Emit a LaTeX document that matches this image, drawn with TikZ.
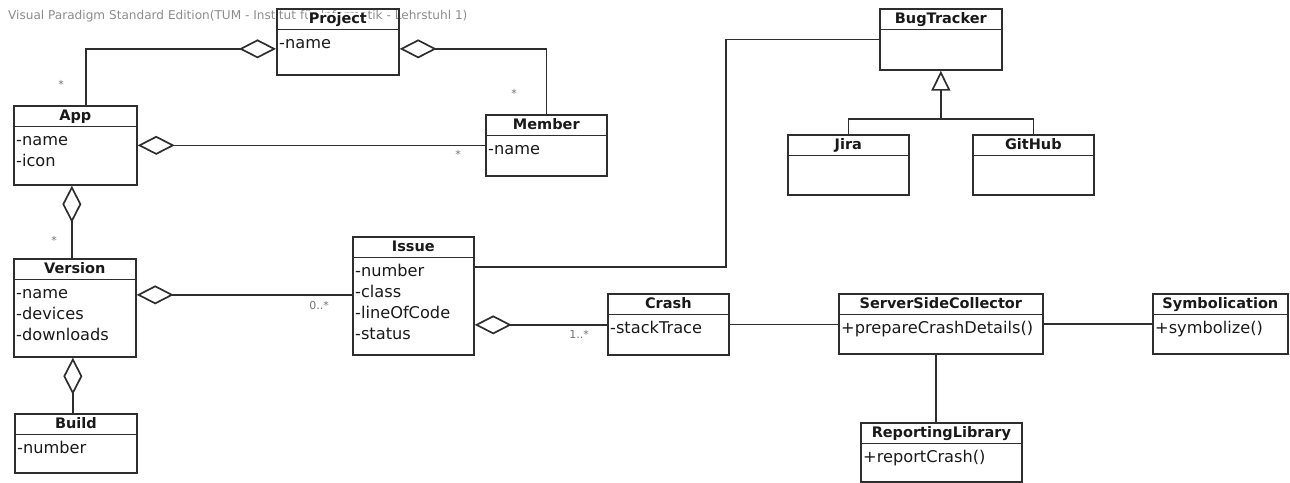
\documentclass[tikz,border=0pt]{standalone}
\usepackage{fontspec}
\setmainfont{DejaVu Sans}
\usetikzlibrary{arrows.meta}

% class box: name, x, y, width, height, title
\newcommand\umlclass[6]{%
  \node[clsbox, minimum width=#4pt, minimum height=#5pt] (#1) at (#2,#3) {};
  \draw[umlline] ([yshift=-21.5pt]#1.north west) -- ([yshift=-21.5pt]#1.north east);
  \node[clstitle] (#1-title) at ([yshift=-10.5pt]#1.north) {#6};
}
% one attribute / operation line: class, line number, text
\newcommand\umlattr[3]{%
  \node[clsattr] (#1-attr#2) at ([xshift=3pt, yshift={-40pt-(#2-1)*21pt}]#1.north west) {#3};
}

\tikzset{
  aggtip/.tip={Diamond[open, length=37pt, width=19pt]},
  gentip/.tip={Triangle[open, length=20pt, width=19pt]},
}

\begin{document}
\begin{tikzpicture}[x=1pt, y=-1pt,
  umlline/.style={draw=black!82, line width=1.7pt},
  clsbox/.style={umlline, rectangle, inner sep=0pt, anchor=north west},
  clstitle/.style={font=\fontsize{14.5}{17}\selectfont\bfseries, text=black!90,
    fill=white, inner sep=0.5pt, text height=10.5pt, text depth=0pt},
  clsattr/.style={font=\fontsize{16.2}{20}\selectfont, text=black!90,
    inner sep=0pt, anchor=base west},
  mult/.style={font=\fontsize{11}{13}\selectfont, text=black!55, inner sep=0pt},
  assoc/.style={umlline},
  agg/.style={umlline, aggtip-},
  gen/.style={umlline, -gentip},
]
\useasboundingbox (0,0) rectangle (1290,482);

% edition banner
\node[font=\fontsize{12.1}{14}\selectfont, text=black!45, anchor=west, inner sep=0pt]
  (banner) at (8,16) {Visual Paradigm Standard Edition(TUM - Institut für Informatik - Lehrstuhl 1)};

% classes
\umlclass{proj}{276}{8}{122}{66}{Project}
\umlattr{proj}{1}{-name}

\umlclass{app}{13}{105}{123}{79}{App}
\umlattr{app}{1}{-name}
\umlattr{app}{2}{-icon}

\umlclass{member}{485}{114}{121}{61}{Member}
\umlattr{member}{1}{-name}

\umlclass{version}{13}{258}{122}{98}{Version}
\umlattr{version}{1}{-name}
\umlattr{version}{2}{-devices}
\umlattr{version}{3}{-downloads}

\umlclass{build}{14}{413}{122}{59}{Build}
\umlattr{build}{1}{-number}

\umlclass{issue}{352}{236}{121}{118}{Issue}
\umlattr{issue}{1}{-number}
\umlattr{issue}{2}{-class}
\umlattr{issue}{3}{-lineOfCode}
\umlattr{issue}{4}{-status}

\umlclass{crash}{607}{293}{121}{61}{Crash}
\umlattr{crash}{1}{-stackTrace}

\umlclass{ssc}{838}{293}{204}{60}{ServerSideCollector}
\umlattr{ssc}{1}{+prepareCrashDetails()}

\umlclass{symb}{1152}{293}{135}{60}{Symbolication}
\umlattr{symb}{1}{+symbolize()}

\umlclass{replib}{860}{422}{161}{59}{ReportingLibrary}
\umlattr{replib}{1}{+reportCrash()}

\umlclass{bug}{879}{8}{122}{61}{BugTracker}
\umlclass{jira}{787}{134}{121}{60}{Jira}
\umlclass{github}{972}{134}{121}{60}{GitHub}

% aggregations
\draw[agg] ([yshift=-7pt]proj.west) -| ([xshift=10.5pt]app.north);
\draw[agg] ([yshift=-7pt]proj.east) -| (member.north);
\draw[agg] (app.east) -- (app.east -| member.west);
\draw[agg] ([xshift=-3.5pt]app.south) -- ([xshift=-3.5pt]app.south |- version.north);
\draw[agg] ([yshift=13pt]version.east) -- ([yshift=13pt]version.east -| issue.west);
\draw[agg] ([xshift=-2pt]version.south) -- ([xshift=-2pt]version.south |- build.north);
\draw[agg] ([yshift=-29pt]issue.east) -- ([yshift=-29pt]issue.east -| crash.west);

% plain associations
\draw[assoc] ([yshift=29pt]issue.east) -- ++(251,0) |- (bug.west);
\draw[assoc] (crash.east) -- (crash.east -| ssc.west);
\draw[assoc] (ssc.east) -- (ssc.east -| symb.west);
\draw[assoc] ([xshift=-5pt]ssc.south) -- ([xshift=-5pt]ssc.south |- replib.north);

% generalization
\coordinate (genjoin) at ([yshift=-48pt]bug.south);
\draw[gen] (genjoin) -- (bug.south);
\draw[assoc] (jira.north) |- (genjoin) -| (github.north);

% multiplicities
\node[mult] (m-app-proj) at (61,84) {*};
\node[mult] (m-mem-proj) at (514,93) {*};
\node[mult] (m-mem-app) at (458,154) {*};
\node[mult] (m-ver-app) at (54,240) {*};
\node[mult] (m-iss-ver) at (319,305) {0..*};
\node[mult] (m-cra-iss) at (579,334) {1..*};
\end{tikzpicture}
\end{document}
